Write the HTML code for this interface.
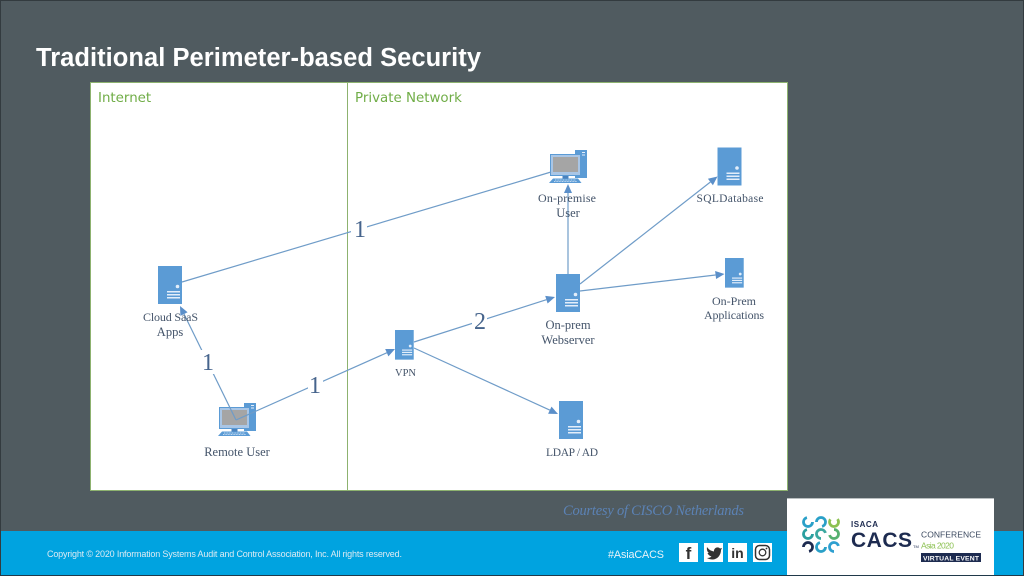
<!DOCTYPE html>
<html><head><meta charset="utf-8"><style>
html,body{margin:0;padding:0;width:1024px;height:576px;overflow:hidden;background:#505b60}
svg{display:block}
.s{font-family:"Liberation Serif",serif;font-size:12.5px;fill:#44546a;text-anchor:middle}
.t{font-size:11.5px}
.n{font-family:"Liberation Serif",serif;font-size:24px;fill:#46648c;text-anchor:middle}
.h{font-family:"DejaVu Sans",sans-serif;font-size:13.4px;fill:#70ad47}
.l{stroke:#6f9cc8;stroke-width:1.2;fill:none}
.a{fill:#5b8fc9}
</style></head><body>
<svg width="1024" height="576" viewBox="0 0 1024 576" xmlns="http://www.w3.org/2000/svg">
<defs>
<g id="srv">
<rect x="0" y="0" width="24" height="38" fill="#5b9bd5"/>
<circle cx="19.5" cy="20.5" r="1.8" fill="#e3eefa"/>
<rect x="9" y="25" width="13" height="1.5" fill="#e3eefa"/>
<rect x="9" y="28" width="13" height="1.5" fill="#e3eefa"/>
<rect x="9" y="31" width="13" height="1.5" fill="#e3eefa"/>
</g>
<g id="pc">
<rect x="25" y="0" width="12" height="28" fill="#5b9bd5"/>
<rect x="32" y="2" width="3" height="1" fill="#e3eefa"/><rect x="32" y="4.500" width="3" height="1" fill="#e3eefa"/>
<rect x="0.500" y="4.500" width="30" height="21" fill="#a9c6e6" stroke="#5b9bd5" stroke-width="1"/>
<rect x="3" y="7" width="25" height="15" fill="#a5a5a5"/>
<rect x="12.500" y="26" width="6" height="2.500" fill="#4a82bd"/>
<path d="M3 28.500H28L31.500 33H-1Z" fill="#5b9bd5"/>
<path d="M5 30H26M4 31.500H27" stroke="#e3eefa" stroke-width=".8" stroke-dasharray="1 .6"/>
</g>
</defs>

<rect x="0.500" y="0.500" width="1023" height="575" fill="#505b60" stroke="#333b3f"/>
<text x="36" y="66" font-family="Liberation Sans,sans-serif" font-size="25.500" font-weight="bold" fill="#fff" textLength="445">Traditional Perimeter-based Security</text>

<rect x="90.500" y="82.500" width="697" height="408" fill="#fff" stroke="#8db26f"/>
<rect x="347" y="83" width="1" height="407" fill="#8db26f"/>
<text x="98" y="102" class="h">Internet</text>
<text x="355" y="102" class="h">Private Network</text>

<use href="#srv" x="158" y="266"/>
<use href="#srv" x="717.500" y="147.500"/>
<use href="#srv" x="556" y="274"/>
<use href="#srv" x="559" y="401"/>
<use href="#srv" transform="translate(725 258) scale(.78)"/>
<use href="#srv" transform="translate(395 330) scale(.78)"/>
<use href="#pc" x="550" y="150"/>
<use href="#pc" x="219" y="403"/>

<line class="l" x1="182" y1="282" x2="551" y2="172"/>
<line class="l" x1="236" y1="420" x2="184" y2="314"/>
<path class="a" d="M180 306L187.600 312.300L180.400 315.900Z"/>
<line class="l" x1="236" y1="420" x2="387" y2="352.700"/>
<path class="a" d="M395 349L388.400 356.400L385.200 349Z"/>
<line class="l" x1="414" y1="342" x2="546.400" y2="299.700"/>
<path class="a" d="M555 297L547.600 303.500L545.200 295.900Z"/>
<line class="l" x1="414" y1="348" x2="550" y2="410.200"/>
<path class="a" d="M558 414L551.500 406.600L548.100 413.800Z"/>
<line class="l" x1="568" y1="274" x2="568" y2="193"/>
<path class="a" d="M568 184L572 193L564 193Z"/>
<line class="l" x1="580" y1="284" x2="710.400" y2="182"/>
<path class="a" d="M717.500 176.500L712.900 185.200L707.900 178.800Z"/>
<line class="l" x1="580" y1="291" x2="715.600" y2="275"/>
<path class="a" d="M724.500 274L716.100 279L715.100 271Z"/>

<rect x="351" y="217" width="16" height="24" fill="#fff"/>
<text x="360" y="237" class="n">1</text>
<rect x="201" y="350" width="15" height="24" fill="#fff"/>
<text x="208" y="370" class="n">1</text>
<rect x="308" y="373" width="15" height="24" fill="#fff"/>
<text x="315" y="393" class="n">1</text>
<rect x="472" y="310" width="15" height="22" fill="#fff"/>
<text x="480" y="329" class="n">2</text>

<text x="170.500" y="321" class="s" style="font-size:12px" textLength="55">Cloud SaaS</text>
<text x="170" y="336" class="s">Apps</text>
<text x="237" y="456" class="s">Remote User</text>
<text x="405.500" y="376" class="s t" style="font-size:10.500px" textLength="21">VPN</text>
<text x="568" y="329" class="s">On-prem</text>
<text x="568" y="344" class="s">Webserver</text>
<text x="572" y="456" class="s t" textLength="52">LDAP / AD</text>
<text x="567" y="202" class="s" style="font-size:12px" textLength="58">On-premise</text>
<text x="568" y="217" class="s">User</text>
<text x="730" y="202" class="s t" textLength="67">SQLDatabase</text>
<text x="734" y="305" class="s" style="font-size:12px" textLength="44">On-Prem</text>
<text x="734" y="319" class="s" style="font-size:12px" textLength="60">Applications</text>

<text x="563" y="515" font-family="Liberation Serif,serif" font-style="italic" font-size="14.500" fill="#5b82b5" textLength="181">Courtesy of CISCO Netherlands</text>

<rect x="1" y="531" width="1022" height="44" fill="#00a3e0"/>
<rect x="0" y="575" width="1024" height="1" fill="#20394a"/>
<text x="47" y="557" font-family="Liberation Sans,sans-serif" font-size="9" fill="#dcebf3" textLength="355">Copyright © 2020 Information Systems Audit and Control Association, Inc. All rights reserved.</text>
<text x="608" y="558" font-family="Liberation Sans,sans-serif" font-size="10.800" fill="#e8f3f8" textLength="56">#AsiaCACS</text>

<rect x="679" y="543" width="19" height="19" fill="#fff"/>
<text x="688.500" y="559" font-family="Liberation Sans,sans-serif" font-size="17" font-weight="bold" fill="#333" text-anchor="middle">f</text>
<rect x="704" y="543" width="19" height="19" fill="#fff"/>
<path d="M707 547C709 550 711.500 551 714 551.500C713.500 548 718 546 720 548.500L722 548L721 550C721 555.500 717 559.500 712.500 559.500C710.500 559.500 708.500 559 707 558C709 558 710.500 557.500 711.500 556.500C709.500 556 708 554.500 707.500 553C708 553 708.500 553 709 553C707.500 552 706.500 550 707 547Z" fill="#333"/>
<rect x="728" y="543" width="19" height="19" fill="#fff"/>
<text x="737.500" y="558" font-family="Liberation Sans,sans-serif" font-size="14" font-weight="bold" fill="#333" text-anchor="middle">in</text>
<rect x="753" y="543" width="19" height="19" fill="#fff"/>
<rect x="755.500" y="545.500" width="14" height="14" rx="4" fill="none" stroke="#333" stroke-width="1.500"/>
<circle cx="762.500" cy="552.500" r="3.300" fill="none" stroke="#333" stroke-width="1.300"/>
<circle cx="766.500" cy="548.500" r=".9" fill="#333"/>

<rect x="787" y="499" width="207" height="76" fill="#fff"/>
<rect x="787" y="498" width="207" height="1" fill="#b9bec0"/>
<g fill="none" stroke-width="2.800">
<circle cx="808" cy="522" r="4.500" stroke="#2aa0c8" stroke-dasharray="20 9"/>
<circle cx="821" cy="522" r="4.500" stroke="#2aa0c8" stroke-dasharray="20 9" transform="rotate(180 821 522)"/>
<circle cx="834" cy="522" r="4.500" stroke="#8cc152" stroke-dasharray="20 9" transform="rotate(-40 834 522)"/>
<circle cx="808" cy="534" r="4.500" stroke="#2a9f9f" stroke-dasharray="20 9"/>
<circle cx="821" cy="534" r="4.500" stroke="#3aa8a0" stroke-dasharray="20 9" transform="rotate(90 821 534)"/>
<circle cx="834" cy="534" r="4.500" stroke="#55b070" stroke-dasharray="20 9" transform="rotate(-90 834 534)"/>
<circle cx="808" cy="547" r="4.500" stroke="#1d2b50" stroke-dasharray="20 9" transform="rotate(180 808 547)"/>
<circle cx="821" cy="547" r="4.500" stroke="#2aa0c8" stroke-dasharray="20 9"/>
<circle cx="834" cy="547" r="4.500" stroke="#2e9fd0" stroke-dasharray="20 9" transform="rotate(90 834 547)"/>
</g>
<text x="851" y="527" font-family="Liberation Sans,sans-serif" font-size="8" font-weight="bold" fill="#1d2b50" textLength="27">ISACA</text>
<text x="851" y="547" font-family="Liberation Sans,sans-serif" font-size="21" font-weight="bold" fill="#1d2b50" textLength="61">CACS</text>
<text x="913" y="548" font-family="Liberation Sans,sans-serif" font-size="4" fill="#1d2b50">TM</text>
<text x="921" y="537.500" font-family="Liberation Sans,sans-serif" font-size="8.500" fill="#3c4a60" textLength="60">CONFERENCE</text>
<text x="921" y="548.500" font-family="Liberation Sans,sans-serif" font-size="8.500" fill="#8cc152" textLength="33">Asia 2020</text>
<rect x="921" y="553" width="60" height="9" fill="#1d2b50"/>
<text x="951" y="560.500" font-family="Liberation Sans,sans-serif" font-size="6.800" font-weight="bold" fill="#fff" text-anchor="middle" textLength="56">VIRTUAL EVENT</text>
</svg>
</body></html>
